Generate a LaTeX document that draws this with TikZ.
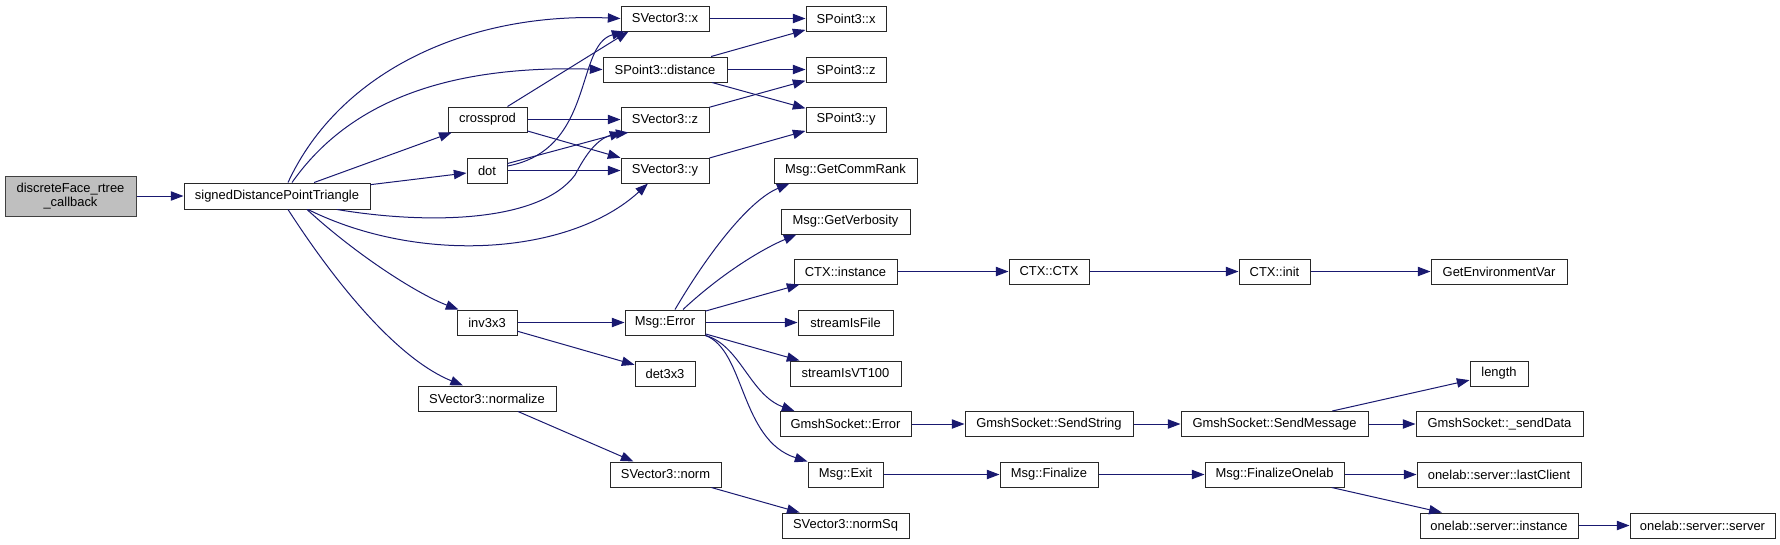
\documentclass[tikz,border=0pt]{standalone}
\usepackage{fontspec}
\setmainfont{Liberation Sans}
\usetikzlibrary{arrows.meta,calc}
\definecolor{edgeblue}{RGB}{25,25,112}
\definecolor{fillgray}{RGB}{191,191,191}
\definecolor{bordergray}{RGB}{64,64,64}
\definecolor{boxline}{RGB}{40,40,40}
\begin{document}
\begin{tikzpicture}[x=0.75pt,y=-0.75pt,
  fn/.style={draw=boxline, line width=0.75pt, fill=white, minimum height=18.75pt, inner sep=0pt, font=\fontsize{9.7}{11}\selectfont},
  wd/.style={minimum width=#1*0.75pt},
  edge/.style={draw=edgeblue, line width=0.75pt, -{Triangle[length=9.5pt,width=7pt]}},
]
\useasboundingbox (0,0) rectangle (1780,544);
% nodes
\node[fn,wd=131,minimum height=30pt,fill=fillgray,draw=bordergray,align=center] (dfc) at (70.5,196) {discreteFace\_rtree\\\_callback};
\node[fn,wd=186,minimum height=19.5pt] (sdpt) at (277,196) {signedDistancePointTriangle};
\node[fn,wd=79] (crossprod) at (487.5,119.5) {crossprod};
\node[fn,wd=40] (dot) at (487,170.5) {dot};
\node[fn,wd=60] (inv) at (487,322.5) {inv3x3};
\node[fn,wd=138] (normalize) at (487,398.5) {SVector3::normalize};
\node[fn,wd=88] (v3x) at (665,18.5) {SVector3::x};
\node[fn,wd=124] (p3dist) at (665,69.5) {SPoint3::distance};
\node[fn,wd=88] (v3z) at (665,119.5) {SVector3::z};
\node[fn,wd=88] (v3y) at (665,170.5) {SVector3::y};
\node[fn,wd=80] (err) at (665,322.5) {Msg::Error};
\node[fn,wd=60] (det) at (665,373.5) {det3x3};
\node[fn,wd=111] (norm) at (665.5,474.5) {SVector3::norm};
\node[fn,wd=80] (p3x) at (846,18.5) {SPoint3::x};
\node[fn,wd=80] (p3z) at (846,69.5) {SPoint3::z};
\node[fn,wd=80] (p3y) at (846,119.5) {SPoint3::y};
\node[fn,wd=143] (commrank) at (845.5,170.5) {Msg::GetCommRank};
\node[fn,wd=129] (verb) at (845.5,221.5) {Msg::GetVerbosity};
\node[fn,wd=103] (ctxinst) at (845.5,271.5) {CTX::instance};
\node[fn,wd=95] (sif) at (845.5,322.5) {streamIsFile};
\node[fn,wd=111] (vt100) at (845.5,373.5) {streamIsVT100};
\node[fn,wd=131] (gserr) at (845.5,424) {GmshSocket::Error};
\node[fn,wd=75] (exit) at (845.5,474.5) {Msg::Exit};
\node[fn,wd=127] (normsq) at (845.5,525.5) {SVector3::normSq};
\node[fn,wd=80] (ctxctx) at (1049,271.5) {CTX::CTX};
\node[fn,wd=168] (sendstr) at (1049,424) {GmshSocket::SendString};
\node[fn,wd=98] (finalize) at (1049,474.5) {Msg::Finalize};
\node[fn,wd=71] (ctxinit) at (1274.5,271.5) {CTX::init};
\node[fn,wd=187] (sendmsg) at (1274.5,424) {GmshSocket::SendMessage};
\node[fn,wd=139] (finonelab) at (1274.5,474.5) {Msg::FinalizeOnelab};
\node[fn,wd=136] (getenv) at (1499,271.5) {GetEnvironmentVar};
\node[fn,wd=58] (length) at (1499,373.5) {length};
\node[fn,wd=167] (senddata) at (1499.5,424) {GmshSocket::\_sendData};
\node[fn,wd=164] (lastclient) at (1499,474.5) {onelab::server::lastClient};
\node[fn,wd=158] (instance) at (1499,525.5) {onelab::server::instance};
\node[fn,wd=145] (server) at (1702.5,525.5) {onelab::server::server};
% straight edges
\draw[edge] (dfc) -- (sdpt);
\draw[edge] (sdpt) -- (crossprod);
\draw[edge] (sdpt) -- (dot);
\draw[edge] (crossprod) -- (v3z);
\draw[edge] (crossprod) -- (v3y);
\draw[edge] (dot) -- (v3y);
\draw[edge] ($(crossprod.north)+(20,0)$) -- ($(v3x.south west)+(8,0)$);
\draw[edge] ($(dot.east)+(0,-7)$) -- ($(v3z.south west)+(2,0)$);
\draw[edge] (v3x) -- (p3x);
\draw[edge] (p3dist) -- (p3x);
\draw[edge] (p3dist) -- (p3z);
\draw[edge] (p3dist) -- (p3y);
\draw[edge] (v3z) -- (p3z);
\draw[edge] (v3y) -- (p3y);
\draw[edge] (inv) -- (err);
\draw[edge] (inv) -- (det);
\draw[edge] ($(normalize.south)+(31,0)$) -- ($(norm.north)+(-32,0)$);
\draw[edge] (norm) -- (normsq);
\draw[edge] (err) -- (ctxinst);
\draw[edge] (err) -- (sif);
\draw[edge] (err) -- (vt100);
\draw[edge] (ctxinst) -- (ctxctx);
\draw[edge] (ctxctx) -- (ctxinit);
\draw[edge] (ctxinit) -- (getenv);
\draw[edge] (gserr) -- (sendstr);
\draw[edge] (sendstr) -- (sendmsg);
\draw[edge] (sendmsg) -- (senddata);
\draw[edge] (sendmsg) -- (length);
\draw[edge] (exit) -- (finalize);
\draw[edge] (finalize) -- (finonelab);
\draw[edge] (finonelab) -- (lastclient);
\draw[edge] (finonelab) -- (instance);
\draw[edge] (instance) -- (server);
% curved edges
\draw[edge] ($(sdpt.north)+(11,0)$) .. controls (340,70) and (470,12) .. (v3x.west);
\draw[edge] ($(sdpt.north)+(15,0)$) .. controls (350,100) and (450,65) .. (p3dist.west);
\draw[edge] ($(dot.east)+(0,-4.5)$) .. controls (595,150) and (575,45) .. ($(v3x.south west)+(4,0)$);
\draw[edge] ($(sdpt.south)+(60,0)$) .. controls (430,225) and (540,222) .. (575,175) .. controls (588,150) and (600,136) .. ($(v3z.south west)+(8,0)$);
\draw[edge] ($(sdpt.south)+(31,0)$) .. controls (420,265) and (570,255) .. ($(v3y.south)+(-17,0)$);
\draw[edge] ($(sdpt.south)+(30,0)$) .. controls (360,258) and (420,295) .. ($(inv.north west)+(2,0)$);
\draw[edge] ($(sdpt.south)+(11,0)$) .. controls (340,290) and (400,360) .. ($(normalize.north)+(-24,0)$);
\draw[edge] ($(err.north)+(10,0)$) .. controls (710,250) and (750,200) .. ($(commrank.south west)+(16,0)$);
\draw[edge] ($(err.north)+(18,0)$) .. controls (720,275) and (760,250) .. ($(verb.south west)+(16,0)$);
\draw[edge] (err.south east) .. controls (740,345) and (750,395) .. ($(gserr.north west)+(15,0)$);
\draw[edge] (err.south east) .. controls (745,350) and (740,440) .. (exit.north west);
\end{tikzpicture}
\end{document}
